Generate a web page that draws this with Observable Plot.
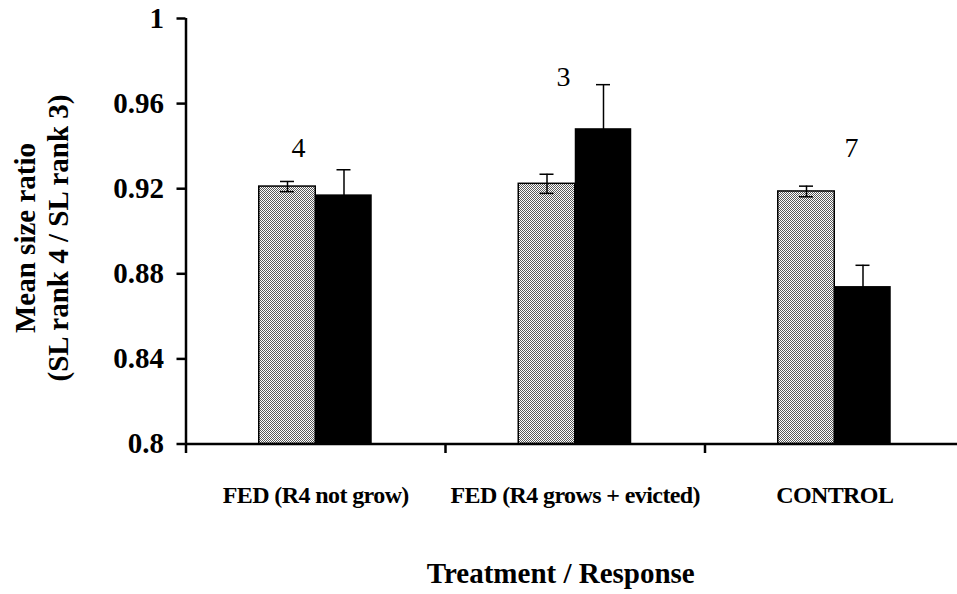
<!DOCTYPE html>
<html><head><meta charset="utf-8">
<script src="https://cdn.jsdelivr.net/npm/d3@7"></script>
<script src="https://cdn.jsdelivr.net/npm/@observablehq/plot@0.6"></script>
<style>
html,body{margin:0;padding:0;background:#fff;overflow:hidden}
#chart{position:relative;width:957px;height:594px;overflow:hidden}
#ytitle{position:absolute;left:41.7px;top:238px;width:320px;transform:translate(-50%,-50%) rotate(-90deg);
  text-align:center;font:bold 29px 'Liberation Serif','Times New Roman',serif;line-height:33px;color:#000;white-space:pre}
</style>
</head><body><div id="chart"></div>
<script>
const categories = ["FED (R4 not grow)", "FED (R4 grows + evicted)", "CONTROL"];
const greyMeans = [0.9210, 0.9223, 0.9187];
const greyErrors = [0.0024, 0.0045, 0.0025];
const blackMeans = [0.9171, 0.9482, 0.8740];
const blackErrors = [0.0118, 0.0207, 0.0100];
const sampleSizes = ["4", "3", "7"];
const yTicks = [0.8, 0.84, 0.88, 0.92, 0.96, 1];
const yTitleLines = ["Mean size ratio", "(SL rank 4 / SL rank 3)"];
const xTitle = "Treatment / Response";

const BW = 0.2177;   // bar width in category units
const CAP = 0.027;   // half cap width
const rows = categories.flatMap((c, i) => [
  {i, series: "grey", mean: greyMeans[i], err: greyErrors[i], cx: i + 0.5 - BW / 2},
  {i, series: "black", mean: blackMeans[i], err: blackErrors[i], cx: i + 0.5 + BW / 2}
]);
const yMin = yTicks[0], yMax = yTicks[yTicks.length - 1];
const boundaries = d3.range(categories.length + 1);
const font = "'Liberation Serif', 'Times New Roman', serif";

const chart = Plot.plot({
  width: 957,
  height: 594,
  marginLeft: 185.5,
  marginRight: 0,
  marginTop: 18,
  marginBottom: 150.5,
  style: {fontFamily: font, background: "white", color: "black", overflow: "hidden"},
  x: {type: "linear", domain: [0, categories.length], range: [185.5, 964]},
  y: {domain: [yMin, yMax]},
  marks: [
    Plot.rectY(rows.filter(d => d.series === "grey"), {
      x1: d => d.i + 0.5 - BW, x2: d => d.i + 0.5, y1: yMin, y2: "mean",
      fill: "url(#chk)", stroke: "black", strokeWidth: 1.5
    }),
    Plot.rectY(rows.filter(d => d.series === "black"), {
      x1: d => d.i + 0.5, x2: d => d.i + 0.5 + BW, y1: yMin, y2: "mean",
      fill: "black"
    }),
    Plot.ruleX(rows, {x: "cx", y1: d => d.mean - d.err, y2: d => d.mean + d.err, stroke: "black", strokeWidth: 1.5}),
    Plot.ruleY(rows, {y: d => d.mean + d.err, x1: d => d.cx - CAP, x2: d => d.cx + CAP, stroke: "black", strokeWidth: 1.5}),
    Plot.ruleY(rows, {y: d => d.mean - d.err, x1: d => d.cx - CAP, x2: d => d.cx + CAP, stroke: "black", strokeWidth: 1.5}),
    Plot.text(sampleSizes, {
      x: (d, i) => i + 0.5 + [-0.066, -0.045, 0.065][i],
      y: (d, i) => [0.9389, 0.9725, 0.9389][i],
      text: d => d, fontSize: 28, lineAnchor: "middle", fill: "black"
    }),
    Plot.ruleY([yMin], {stroke: "black", strokeWidth: 2.5}),
    Plot.ruleX([0], {y1: yMin, y2: yMax, stroke: "black", strokeWidth: 2.5}),
    Plot.axisY({ticks: yTicks, tickSize: 9, tickPadding: 13, fontSize: 29, fontWeight: "bold",
      strokeWidth: 2.5, label: null, tickFormat: d => String(+d.toFixed(2))}),
    Plot.axisX({ticks: boundaries, tickSize: 9.5, tickPadding: 0, strokeWidth: 2.5,
      label: null, tickFormat: () => ""}),
    Plot.text(categories, {
      x: (d, i) => i + 0.5, frameAnchor: "bottom", lineAnchor: "top", dy: 41.5,
      text: d => d, fontSize: 24, fontWeight: "bold", fill: "black"
    }),
    Plot.text([xTitle], {frameAnchor: "bottom", lineAnchor: "top", dy: 118, dx: -11,
      text: d => d, fontSize: 29, fontWeight: "bold", fill: "black"})
  ]
});

d3.select(chart).insert("defs", ":first-child").html(
  '<pattern id="chk" width="2" height="2" patternUnits="userSpaceOnUse">' +
  '<rect width="2" height="2" fill="#fff"/>' +
  '<rect width="1" height="1" fill="#5a5a5a"/>' +
  '<rect x="1" y="1" width="1" height="1" fill="#5a5a5a"/></pattern>');
d3.select(chart).selectAll("text")
  .filter(function() { return categories.includes(this.textContent); })
  .style("letter-spacing", "-0.6px");
const container = document.getElementById("chart");
container.append(chart);
const yt = document.createElement("div");
yt.id = "ytitle";
yt.textContent = yTitleLines.join("\n");
container.append(yt);
</script>
</body></html>
